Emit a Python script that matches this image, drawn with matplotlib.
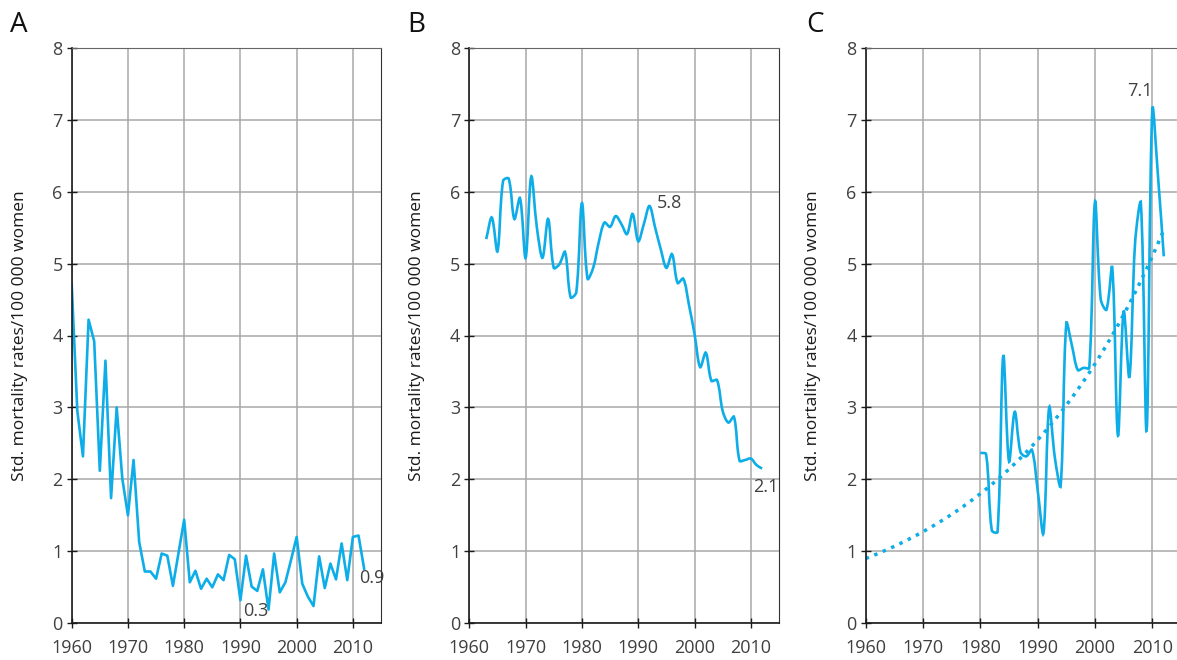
import numpy as np
import matplotlib.pyplot as plt
from matplotlib.path import Path
from matplotlib.patches import PathPatch

plt.rcParams['font.family'] = ['Open Sans', 'DejaVu Sans']

# Panel A: yearly values, drawn as straight segments
years_a = np.arange(1960, 2013)
rates_a = [4.71, 2.95, 2.32, 4.22, 3.92, 2.12, 3.65, 1.74, 3.00, 2.01,
           1.50, 2.27, 1.13, 0.72, 0.72, 0.62, 0.97, 0.94, 0.52, 0.98,
           1.44, 0.57, 0.73, 0.48, 0.62, 0.50, 0.68, 0.60, 0.95, 0.89,
           0.32, 0.94, 0.51, 0.45, 0.75, 0.19, 0.97, 0.43, 0.57, 0.88,
           1.20, 0.55, 0.37, 0.24, 0.93, 0.49, 0.83, 0.61, 1.11, 0.60,
           1.20, 1.22, 0.76]

# Panel B: yearly values, drawn smoothed
years_b = np.arange(1963, 2013)
rates_b = [5.34, 5.64, 5.17, 6.15, 6.18, 5.62, 5.91, 5.08, 6.21, 5.50,
           5.08, 5.62, 4.94, 4.99, 5.16, 4.53, 4.60, 5.84, 4.79, 4.94,
           5.30, 5.57, 5.51, 5.66, 5.55, 5.41, 5.69, 5.31, 5.55, 5.80,
           5.50, 5.20, 4.94, 5.13, 4.73, 4.79, 4.43, 4.02, 3.56, 3.76,
           3.37, 3.38, 2.95, 2.79, 2.87, 2.26, 2.27, 2.29, 2.20, 2.15]

# Panel C: yearly values, drawn smoothed, plus exponential trend
years_c = np.arange(1980, 2013)
rates_c = [2.37, 2.35, 1.29, 1.27, 3.72, 2.25, 2.94, 2.38, 2.32, 2.41,
           1.85, 1.25, 3.00, 2.30, 1.91, 4.17, 3.85, 3.52, 3.55, 3.55,
           5.86, 4.50, 4.36, 4.95, 2.61, 4.34, 3.42, 5.30, 5.84, 2.68,
           7.15, 6.20, 5.10]
trend_a, trend_b = 0.90, 0.0347   # y = a * exp(b * (year - 1960))
trend_years = np.arange(1960, 2013)

blue = '#0DADE8'
tick_col = '#404040'

PX_PER_YEAR = 5.65
PX_PER_UNIT = 72.0


def smooth_path(x, y):
    # smoothed curve through the points (cubic Bezier, handles weighted
    # by the on-screen length of the neighbouring segments)
    pts = np.column_stack([np.asarray(x, float), np.asarray(y, float)])
    scale = np.array([PX_PER_YEAR, PX_PER_UNIT])
    n = len(pts)
    h_in = np.zeros_like(pts)
    h_out = np.zeros_like(pts)
    for i in range(n):
        p0 = pts[max(i - 1, 0)]
        p1 = pts[i]
        p2 = pts[min(i + 1, n - 1)]
        d = p2 - p0
        l1 = np.hypot(*((p1 - p0) * scale))
        l2 = np.hypot(*((p2 - p1) * scale))
        tot = l1 + l2
        if tot == 0:
            continue
        h_in[i] = d * (l1 / tot) / 3.0
        h_out[i] = d * (l2 / tot) / 3.0
    verts = [pts[0]]
    codes = [Path.MOVETO]
    for i in range(n - 1):
        verts += [pts[i] + h_out[i], pts[i + 1] - h_in[i + 1], pts[i + 1]]
        codes += [Path.CURVE4] * 3
    return Path(verts, codes)


def style_axes(ax, xmax):
    ax.set_xlim(1960, xmax)
    ax.set_ylim(0, 8)
    ax.set_xticks(range(1960, 2011, 10))
    ax.set_yticks(range(0, 9))
    ax.grid(True, color='#a8a8a8', linewidth=1.1)
    ax.set_axisbelow(True)
    for side in ['left', 'bottom']:
        ax.spines[side].set_color('#1a1a1a')
        ax.spines[side].set_linewidth(1.2)
    ax.spines['top'].set_color('#666666')
    ax.spines['right'].set_color('#333333')
    ax.tick_params(direction='inout', length=7, width=1, color='#1a1a1a',
                   labelsize=13, labelcolor=tick_col, pad=3)
    ax.tick_params(axis='x', pad=8)
    ax.set_ylabel('Std. mortality rates/100 000 women', fontsize=12.5,
                  color='#1a1a1a')


fig = plt.figure(figsize=(11.77, 6.6), dpi=100)
W, H = 1177.0, 660.0
bottom = (H - 623.3) / H
height = (623.3 - 47.7) / H

axA = fig.add_axes([71.7 / W, bottom, (381 - 71.7) / W, height])
axB = fig.add_axes([469.3 / W, bottom, (779 - 469.3) / W, height])
axC = fig.add_axes([865.7 / W, bottom, 315.3 / W, height])

for ax in [axA, axB, axC]:
    style_axes(ax, 2015)
    ax.yaxis.set_label_coords(-44 / 309.5, 0.5)

# A
axA.plot(years_a, rates_a, color=blue, linewidth=1.9)
axA.text(1992.7, 0.17, '0.3', fontsize=13, color=tick_col, ha='center', va='center')
axA.text(2013.3, 0.63, '0.9', fontsize=13, color=tick_col, ha='center', va='center')

# B
axB.add_patch(PathPatch(smooth_path(years_b, rates_b), facecolor='none',
                        edgecolor=blue, linewidth=1.9))
axB.text(1995.6, 5.84, '5.8', fontsize=13, color=tick_col, ha='center', va='center')
axB.text(2012.65, 1.89, '2.1', fontsize=13, color=tick_col, ha='center', va='center')

# C
trend = trend_a * np.exp(trend_b * (trend_years - 1960))
axC.plot(trend_years, trend, color=blue, linewidth=2.5, linestyle=':')
axC.add_patch(PathPatch(smooth_path(years_c, rates_c), facecolor='none',
                        edgecolor=blue, linewidth=1.9))
axC.text(2007.9, 7.40, '7.1', fontsize=13, color=tick_col, ha='center', va='center')
axC.spines['right'].set_visible(False)

for letter, xpx in [('A', 18.5), ('B', 416), ('C', 815)]:
    fig.text(xpx / W, 1 - 25 / H, letter, fontsize=20, color='#111111',
             ha='center', va='center')

fig.savefig('out.png', dpi=100)
